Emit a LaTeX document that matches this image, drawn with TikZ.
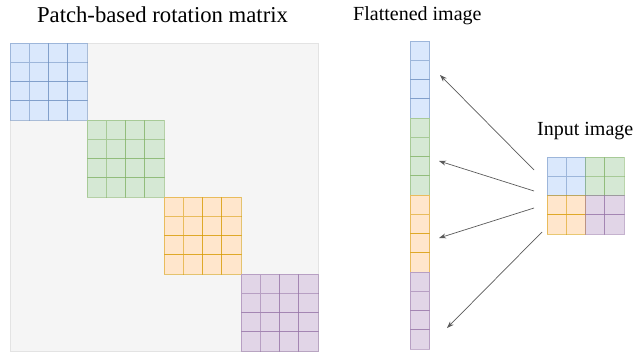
\documentclass[tikz,border=0pt]{standalone}
\usepackage{fontspec}
\setmainfont{Liberation Serif}
\usetikzlibrary{arrows.meta, positioning}
\definecolor{bluefill}{HTML}{DAE8FC}
\definecolor{blueline}{HTML}{6C8EBF}
\definecolor{greenfill}{HTML}{D5E8D4}
\definecolor{greenline}{HTML}{82B366}
\definecolor{orangefill}{HTML}{FFE6CC}
\definecolor{orangeline}{HTML}{D79B00}
\definecolor{purplefill}{HTML}{E1D5E7}
\definecolor{purpleline}{HTML}{9673A6}
\definecolor{bgfill}{HTML}{F5F5F5}
\definecolor{bgline}{HTML}{E3E3E3}
\definecolor{arrowgray}{HTML}{5A5A5A}

\begin{document}
\begin{tikzpicture}[
        x=1pt, y=-1pt,
        cell/.style={
            rectangle,
            minimum size=19.25pt,
            inner sep=0pt,
            line width=0.8pt,
            fill=#1fill,
            draw=#1line,
            draw opacity=0.55
        },
        fondo/.style={
            rectangle,
            minimum size=308pt,
            inner sep=0pt,
            fill=bgfill,
            draw=bgline,
            line width=0.8pt
        },
        titulo/.style={
            anchor=base,
            inner sep=0pt,
            font=\fontsize{20}{24}\selectfont
        },
        flecha/.style={
            draw=arrowgray,
            line width=0.7pt,
            -{Stealth[length=7pt, width=5pt]}
        }
    ]
        \useasboundingbox (0,0) rectangle (634,351);

        % titles
        \node[titulo, font=\fontsize{22.7}{27}\selectfont] (tmat) at (162.5,22) {Patch-based rotation matrix};
        \node[titulo, anchor=base west] (tflat) at (353,20) {Flattened image};
        \node[titulo, anchor=base west] (tinput) at (537,135) {Input image};

        % rotation matrix
        \node[fondo] (matriz) at (164,197) {};
        \foreach \col [count=\b from 0] in {blue, green, orange, purple} {
            \foreach \i in {0,...,3} {
                \foreach \j in {0,...,3} {
                    \node[cell=\col] (m-\b-\i-\j)
                        at ({10+77*\b+19.25*\i+9.625},{43+77*\b+19.25*\j+9.625}) {};
                }
            }
        }

        % flattened image
        \foreach \col [count=\b from 0] in {blue, green, orange, purple} {
            \foreach \j in {0,...,3} {
                \node[cell=\col] (f-\b-\j)
                    at (420,{41+77*\b+19.25*\j+9.625}) {};
            }
        }

        % input image
        \foreach \col/\qx/\qy in {blue/0/0, green/1/0, orange/0/1, purple/1/1} {
            \foreach \i in {0,1} {
                \foreach \j in {0,1} {
                    \node[cell=\col] (in-\qx\qy-\i\j)
                        at ({547+38.5*\qx+19.25*\i+9.625},{157+38.5*\qy+19.25*\j+9.625}) {};
                }
            }
        }

        % arrows
        \coordinate (s1) at (534,170);
        \coordinate (s2) at (534,191);
        \coordinate (s3) at (534,208);
        \coordinate (s4) at (542,232);
        \coordinate (e1) at (440,75);
        \coordinate (e2) at (439,161);
        \coordinate (e3) at (439,238);
        \coordinate (e4) at (447,328);
        \foreach \n in {1,...,4} {
            \draw[flecha] (s\n) -- (e\n);
        }
    \end{tikzpicture}
\end{document}
